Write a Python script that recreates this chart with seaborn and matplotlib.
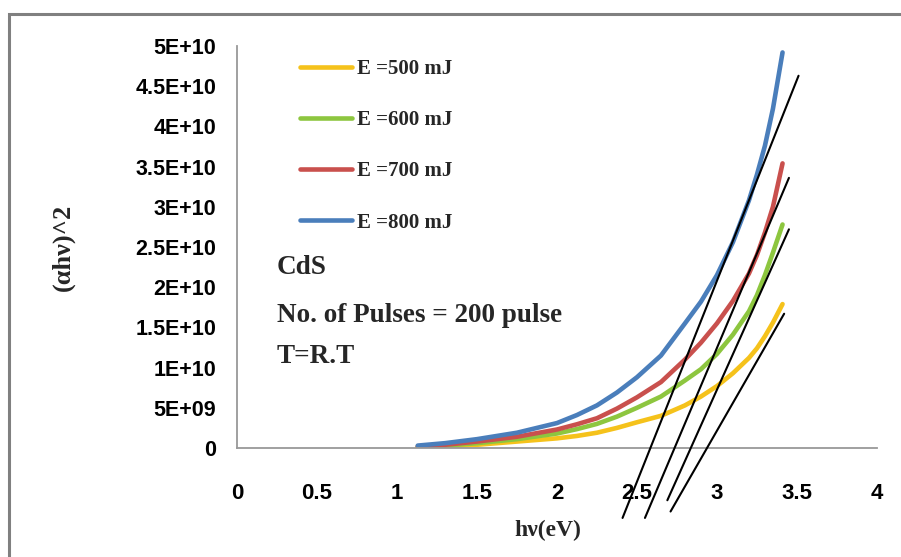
import numpy as np
import pandas as pd
import matplotlib
matplotlib.use("Agg")
import matplotlib.pyplot as plt
from matplotlib.patches import Rectangle
import seaborn as sns

# photon energy (eV) where the curves were read
hv = [1.13, 1.3, 1.5, 1.75, 2.0, 2.125, 2.25, 2.375, 2.5, 2.65, 2.8, 2.9, 3.0, 3.1, 3.2, 3.25, 3.3, 3.35, 3.41]

# (alpha*h*nu)^2 in units of 1E10
e500 = [0.01, 0.02, 0.04, 0.08, 0.12, 0.15, 0.19, 0.25, 0.32, 0.40, 0.53, 0.64, 0.77, 0.93, 1.12, 1.24, 1.39, 1.56, 1.79]
e600 = [0.015, 0.03, 0.06, 0.11, 0.18, 0.235, 0.30, 0.39, 0.50, 0.64, 0.84, 0.98, 1.17, 1.41, 1.70, 1.90, 2.15, 2.43, 2.78]
e700 = [0.02, 0.04, 0.08, 0.14, 0.23, 0.295, 0.37, 0.49, 0.63, 0.82, 1.10, 1.31, 1.55, 1.83, 2.17, 2.40, 2.68, 3.00, 3.54]
e800 = [0.03, 0.06, 0.11, 0.19, 0.31, 0.41, 0.53, 0.69, 0.88, 1.15, 1.55, 1.82, 2.15, 2.56, 3.08, 3.40, 3.76, 4.22, 4.92]

labels = ["E =500 mJ", "E =600 mJ", "E =700 mJ", "E =800 mJ"]
colors = ["#F5C21B", "#8DC63F", "#C9504D", "#4A7EBB"]

# extrapolation lines (x pairs, y pairs in 1E10)
fit_x = [[2.41, 3.51], [2.55, 3.45], [2.69, 3.45], [2.71, 3.42]]
fit_y = [[-0.87, 4.63], [-0.87, 3.36], [-0.65, 2.72], [-0.79, 1.67]]

yticks = [0, 0.5e10, 1e10, 1.5e10, 2e10, 2.5e10, 3e10, 3.5e10, 4e10, 4.5e10, 5e10]
ytick_labels = ["0", "5E+09", "1E+10", "1.5E+10", "2E+10", "2.5E+10",
                "3E+10", "3.5E+10", "4E+10", "4.5E+10", "5E+10"]
xticks = [0, 0.5, 1, 1.5, 2, 2.5, 3, 3.5, 4]
xtick_labels = ["0", "0.5", "1", "1.5", "2", "2.5", "3", "3.5", "4"]

rows = []
for lab, vals in zip(labels, [e500, e600, e700, e800]):
    for x, v in zip(hv, vals):
        rows.append({"hv": x, "val": v * 1e10, "series": lab})
df = pd.DataFrame(rows)

sns.set_style("white")
plt.rcParams["font.family"] = ["Liberation Sans Narrow", "Liberation Sans", "DejaVu Sans"]

fig = plt.figure(figsize=(9.01, 5.57), dpi=100)
ax = fig.add_axes([0.263, 0.1957, 0.7103, 0.7217])

sns.lineplot(data=df, x="hv", y="val", hue="series", hue_order=labels,
             palette=colors, linewidth=3.3, ax=ax, sort=True)
for ln in ax.lines:
    ln.set_solid_joinstyle("round")
    ln.set_solid_capstyle("round")

for xs, ys in zip(fit_x, fit_y):
    ax.plot(xs, [y * 1e10 for y in ys], color="black", lw=1.5, clip_on=False, zorder=5)

ax.set_xlim(0, 4)
ax.set_ylim(0, 5e10)
ax.set_xticks(xticks)
ax.set_xticklabels(xtick_labels, fontsize=16, fontweight="bold")
ax.set_yticks(yticks)
ax.set_yticklabels(ytick_labels, fontsize=15.5, fontweight="bold")
ax.tick_params(axis="both", colors="#888888", labelcolor="black", length=6, width=1)
ax.tick_params(axis="y", pad=9)
ax.tick_params(axis="x", pad=19)

for s in ["top", "right"]:
    ax.spines[s].set_visible(False)
for s in ["left", "bottom"]:
    ax.spines[s].set_color("#999999")
    ax.spines[s].set_linewidth(1.3)

ax.set_xlabel("hν(eV)", fontsize=17, fontweight="bold", family="Liberation Serif")
ax.xaxis.set_label_coords(0.486, -0.18)
ax.set_ylabel("(αhν)^2", fontsize=19, fontweight="bold", family="Liberation Serif")
ax.yaxis.set_label_coords(-0.253, 0.5)

ax.legend(loc="upper left", bbox_to_anchor=(0.098, 0.968), frameon=False,
          prop={"family": "Liberation Serif", "weight": "bold", "size": 15},
          handlelength=2.5, handletextpad=0.25, labelspacing=1.5,
          borderpad=0, borderaxespad=0)

ax.text(0.062, 0.45, "CdS", transform=ax.transAxes, fontsize=19.5,
        fontweight="bold", family="Liberation Serif", va="center")
ax.text(0.062, 0.33, "No. of Pulses = 200 pulse", transform=ax.transAxes,
        fontsize=19.5, fontweight="bold", family="Liberation Serif", va="center")
ax.text(0.062, 0.227, "T=R.T", transform=ax.transAxes, fontsize=19.5,
        fontweight="bold", family="Liberation Serif", va="center")

fig.patches.append(Rectangle((0.01, -0.1), 1.2, 1.075, transform=fig.transFigure,
                             fill=False, edgecolor="#808080", lw=2.2))

fig.savefig("out.png", dpi=100)
